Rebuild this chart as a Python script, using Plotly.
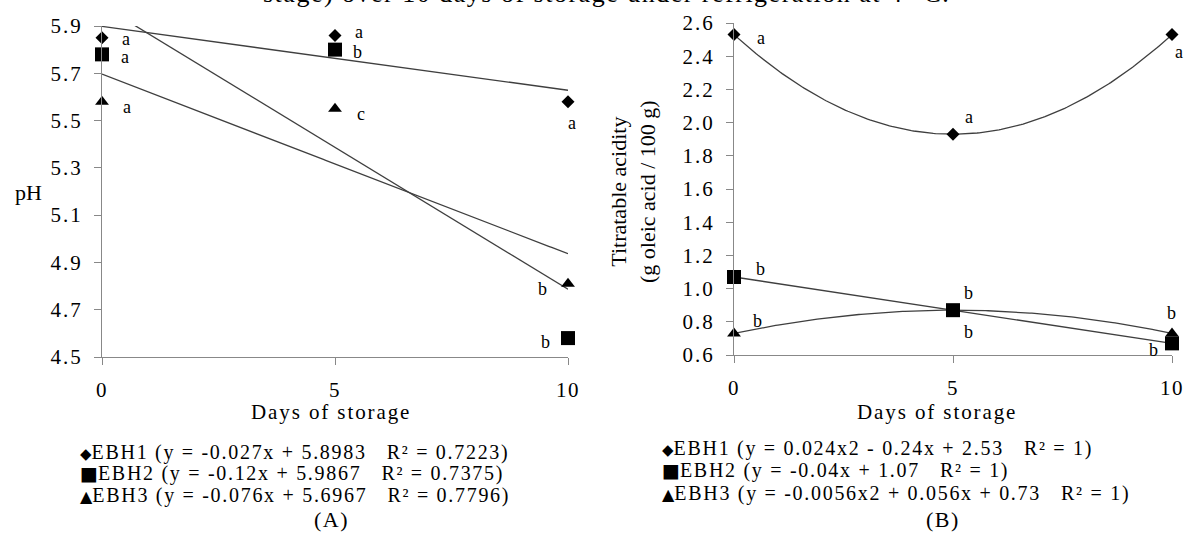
import numpy as np
import plotly.graph_objects as go

# ---------------- data ----------------
days = [0, 5, 10]
series_names = ["EBH1", "EBH2", "EBH3"]

# (A) pH
ph_ebh1 = [5.85, 5.86, 5.58]
ph_ebh2 = [5.78, 5.80, 4.58]
ph_ebh3 = [5.58, 5.55, 4.81]
ph_letters_ebh1 = ["a", "a", "a"]
ph_letters_ebh2 = ["a", "b", "b"]
ph_letters_ebh3 = ["a", "c", "b"]
ph_fit_ebh1 = [-0.027, 5.8983]
ph_fit_ebh2 = [-0.12, 5.9867]
ph_fit_ebh3 = [-0.076, 5.6967]
ph_r2 = [0.7223, 0.7375, 0.7796]
ph_ticks = [4.5, 4.7, 4.9, 5.1, 5.3, 5.5, 5.7, 5.9]

# (B) titratable acidity
ta_ebh1 = [2.53, 1.93, 2.53]
ta_ebh2 = [1.07, 0.87, 0.67]
ta_ebh3 = [0.73, 0.87, 0.73]
ta_letters_ebh1 = ["a", "a", "a"]
ta_letters_ebh2 = ["b", "b", "b"]
ta_letters_ebh3 = ["b", "b", "b"]
ta_fit_ebh1 = [0.024, -0.24, 2.53]
ta_fit_ebh2 = [-0.04, 1.07]
ta_fit_ebh3 = [-0.0056, 0.056, 0.73]
ta_r2 = [1, 1, 1]
ta_ticks = [0.6, 0.8, 1.0, 1.2, 1.4, 1.6, 1.8, 2.0, 2.2, 2.4, 2.6]

x_ticks = [0, 5, 10]
caption = "stage) over 10 days of storage under refrigeration at 4 °C."

# ---------------- style ----------------
W, H = 1187, 534
FONT = "Liberation Serif"
AXIS_GREY = "#888888"
LINE_GREY = "#3f3f3f"
symbols = ["diamond", "square", "triangle-up"]
msizes = [10, 14, 12]
glyphs = ["◆", "■", "▲"]
glyph_sizes = [15, 19, 16]

# letter label offsets (px) per series per point
ph_offsets = [[(24, -1), (24, 3), (4, -21)],
              [(23, -3), (22, -2), (-23, -4)],
              [(25, -5), (26, -5), (-26, -5)]]
ta_offsets = [[(27, -3), (16, 17), (7, -17)],
              [(26, 8), (15, 17), (-19, -7)],
              [(23, 12), (15, -22), (-1, 20)]]


def px_x(p):
    return p / W


def px_y(p):
    return 1 - p / H


def wide(s, ls=1.4):
    return f"<span style=\"letter-spacing:{ls}px\">{s}</span>"


def fmt_poly(coefs):
    deg = len(coefs) - 1
    parts = []
    for i, c in enumerate(coefs):
        p = deg - i
        term = "x2" if p == 2 else ("x" if p == 1 else "")
        if i == 0:
            parts.append(f"{c:g}{term}")
        else:
            sign = "+" if c >= 0 else "-"
            parts.append(f" {sign} {abs(c):g}{term}")
    return "y = " + "".join(parts)


fig = go.Figure()

panels = [
    dict(xa="x", ya="y", vals=[ph_ebh1, ph_ebh2, ph_ebh3],
         letters=[ph_letters_ebh1, ph_letters_ebh2, ph_letters_ebh3],
         fits=[ph_fit_ebh1, ph_fit_ebh2, ph_fit_ebh3], r2=ph_r2, offs=ph_offsets),
    dict(xa="x2", ya="y2", vals=[ta_ebh1, ta_ebh2, ta_ebh3],
         letters=[ta_letters_ebh1, ta_letters_ebh2, ta_letters_ebh3],
         fits=[ta_fit_ebh1, ta_fit_ebh2, ta_fit_ebh3], r2=ta_r2, offs=ta_offsets),
]

xs = np.linspace(min(days), max(days), 201)
annotations = []
for pan in panels:
    for i in range(3):
        fig.add_trace(go.Scatter(
            x=xs, y=np.polyval(pan["fits"][i], xs), mode="lines",
            line=dict(color=LINE_GREY, width=1.3), xaxis=pan["xa"], yaxis=pan["ya"],
            showlegend=False, hoverinfo="skip"))
    for i in range(3):
        fig.add_trace(go.Scatter(
            x=days, y=pan["vals"][i], mode="markers", name=series_names[i],
            marker=dict(symbol=symbols[i], size=msizes[i], color="black"),
            cliponaxis=False, xaxis=pan["xa"], yaxis=pan["ya"], showlegend=False))
        for j, d in enumerate(days):
            dx, dy = pan["offs"][i][j]
            annotations.append(dict(
                x=d, y=pan["vals"][i][j], xref=pan["xa"], yref=pan["ya"],
                xanchor="center", yanchor="middle",
                text=pan["letters"][i][j], showarrow=False, xshift=dx, yshift=dy,
                font=dict(family=FONT, size=18, color="black")))

axis_common = dict(showline=True, linecolor=AXIS_GREY, linewidth=1, ticks="outside",
                   ticklen=7, tickcolor=AXIS_GREY, tickwidth=1, showgrid=False,
                   zeroline=False, ticklabelstandoff=7, automargin=False,
                   tickfont=dict(family=FONT, size=21, color="black"))

fig.update_layout(
    template="none",
    font=dict(family=FONT, color="black"),
    width=W, height=H, margin=dict(l=0, r=0, t=0, b=0, pad=0),
    paper_bgcolor="white", plot_bgcolor="white", showlegend=False,
    xaxis=dict(domain=[px_x(102), px_x(568)], range=[0, 10], tickvals=x_ticks,
               ticktext=[wide(f"{v:g}", 1.6) for v in x_ticks],
               anchor="y", **axis_common),
    yaxis=dict(domain=[px_y(357), px_y(26)], range=[4.5, 5.9], tickvals=ph_ticks,
               ticktext=[wide(f"{v:.1f}", 2.0) for v in ph_ticks],
               anchor="x", **axis_common),
    xaxis2=dict(domain=[px_x(734), px_x(1172)], range=[0, 10], tickvals=x_ticks,
                ticktext=[wide(f"{v:g}", 1.6) for v in x_ticks],
                anchor="y2", **axis_common),
    yaxis2=dict(domain=[px_y(355), px_y(23)], range=[0.6, 2.6], tickvals=ta_ticks,
                ticktext=[wide(f"{v:.1f}", 2.0) for v in ta_ticks],
                anchor="x2", **axis_common),
)


def paper_text(x, y, text, size=22, angle=0, xanchor="center", yanchor="middle"):
    return dict(x=px_x(x), y=px_y(y), xref="paper", yref="paper", text=text,
                textangle=angle, xanchor=xanchor, yanchor=yanchor, showarrow=False,
                font=dict(family=FONT, size=size, color="black"))


annotations += [
    paper_text(331, 412, wide("Days of storage", 1.9), size=21),
    paper_text(937, 412, wide("Days of storage", 1.9), size=21),
    paper_text(28, 192, "pH"),
    paper_text(633, 192, "Titratable acidity<br>(g oleic acid / 100 g)", angle=-90),
    paper_text(331, 519, wide("(A)", 1.5)),
    paper_text(943, 519, wide("(B)", 1.5)),
    paper_text(607, 10, wide(caption, 1.5), size=26, yanchor="bottom"),
]

# legends
legend_rows = [[452, 473, 495], [448, 470, 493]]
for k, (pan, x0) in enumerate([(panels[0], 78), (panels[1], 660)]):
    for i in range(3):
        txt = (f"<span style=\"font-family:DejaVu Sans;font-size:{glyph_sizes[i]}px\">{glyphs[i]}</span>"
               + wide(f"{series_names[i]} ({fmt_poly(pan['fits'][i])}\u00a0\u00a0\u00a0"
                      f"R² = {pan['r2'][i]:g})", 1.7))
        annotations.append(paper_text(x0, legend_rows[k][i], txt, size=20, xanchor="left"))

fig.update_layout(annotations=annotations)
fig.write_html("out.html", config={"displayModeBar": False},
               post_script="document.body.style.margin='0';")
